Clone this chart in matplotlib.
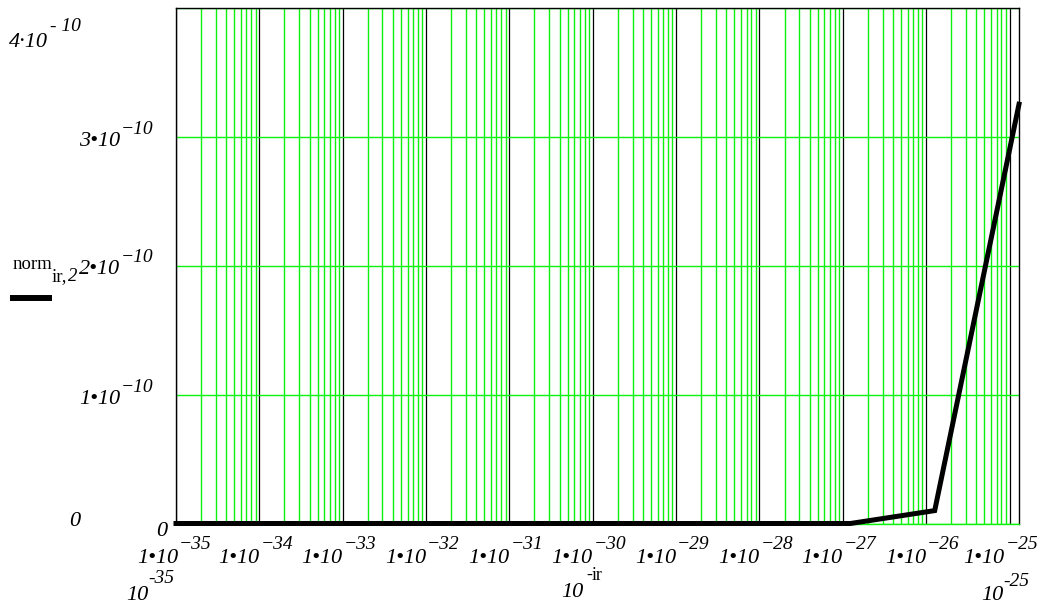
import numpy as np
import matplotlib.pyplot as plt
from matplotlib.lines import Line2D
from matplotlib.ticker import LogLocator, NullFormatter, NullLocator

# data: norm[ir, 2] against 10^-ir
ir = [35, 34, 33, 32, 31, 30, 29, 28, 27, 26, 25]
norm_ir2 = [0, 0, 0, 0, 0, 0, 0, 0, 0, 1.0e-11, 3.25e-10]
x_exps = [-35, -34, -33, -32, -31, -30, -29, -28, -27, -26, -25]
y_ticks = [1e-10, 2e-10, 3e-10]
y_tick_digits = ['1', '2', '3']
y_max = 4e-10

W, H = 1046, 604
SERIF = 'Liberation Serif'
GREEN = '#0cf20c'

fig = plt.figure(figsize=(W / 100, H / 100), dpi=100)
rect = [176 / W, 1 - 523.5 / H, (1019 - 176) / W, (523.5 - 7.5) / H]

# Mathcad draws its log grid a bit narrower than the data scale
gax = fig.add_axes(rect)
gax.set_xscale('log')
gax.set_xlim(10.0 ** x_exps[0], 10.0 ** (x_exps[0] + (x_exps[-1] - x_exps[0]) * 843.3 / 833.8))
gax.set_ylim(0, y_max)
gax.set_xticks([10.0 ** e for e in x_exps])
gax.xaxis.set_minor_locator(LogLocator(base=10, subs=np.arange(2, 10), numticks=100))
gax.xaxis.set_minor_formatter(NullFormatter())
gax.set_yticks([0] + y_ticks + [y_max])
gax.tick_params(which='both', length=0, labelbottom=False, labelleft=False)
gax.set_axisbelow(True)
gax.grid(which='major', axis='x', color='black', lw=0.9)
gax.grid(which='minor', axis='x', color=GREEN, lw=1.0)
gax.grid(which='major', axis='y', color=GREEN, lw=1.0)
for side in ['left', 'top', 'right']:
    gax.spines[side].set_color('black')
    gax.spines[side].set_linewidth(1.0)
gax.spines['bottom'].set_color(GREEN)
gax.spines['bottom'].set_linewidth(1.0)

# data axes on top
ax = fig.add_axes(rect)
ax.patch.set_visible(False)
ax.set_xscale('log')
ax.set_xlim(10.0 ** -35, 10.0 ** -25)
ax.set_ylim(0, y_max)
for s in ax.spines.values():
    s.set_visible(False)
ax.xaxis.set_major_locator(NullLocator())
ax.xaxis.set_minor_locator(NullLocator())
ax.yaxis.set_major_locator(NullLocator())
x_vals = [10.0 ** (-k) for k in ir]
ax.plot(x_vals, norm_ir2, color='black', lw=3.6, solid_joinstyle='miter', clip_on=False)

BASE = 16
SUP = 14


def lab(axis, xy, coords, dx, dy, base, sup, dy_sup=14):
    axis.annotate(base, xy=xy, xycoords=coords, xytext=(dx, dy), textcoords='offset pixels',
                  ha='right', va='baseline', fontsize=BASE, family=SERIF, style='italic',
                  annotation_clip=False)
    axis.annotate(sup, xy=xy, xycoords=coords, xytext=(dx + 1, dy + dy_sup), textcoords='offset pixels',
                  ha='left', va='baseline', fontsize=SUP, family=SERIF, style='italic',
                  annotation_clip=False)


# x tick labels at the grid decades
for i, e in enumerate(x_exps):
    dx = 2 if i == 0 else 0
    if i == len(x_exps) - 1:
        dx = -5
    lab(gax, (10.0 ** e, 0), ('data', 'axes fraction'), dx, -39.5, '1\u202210', '\u2212%d' % -e)

# y tick labels
for v, d in zip(y_ticks, y_tick_digits):
    lab(gax, (0, v), ('axes fraction', 'data'), -56, -9, d + '\u202210', '\u221210', dy_sup=12)
gax.annotate('0', xy=(0, 0), xycoords='axes fraction', xytext=(-9, -12.5), textcoords='offset pixels',
             ha='right', va='baseline', fontsize=BASE, family=SERIF, style='italic', annotation_clip=False)


def put(x, y, s, size, style='italic', ha='left'):
    fig.text(x / W, 1 - y / H, s, ha=ha, va='baseline', fontsize=size, family=SERIF, style=style)


# axis limit labels (Mathcad style)
put(48, 47, '4\u00b710', BASE, ha='right')
put(50, 31, '- 10', SUP)
put(80, 526, '0', BASE, ha='right')
put(148, 600, '10', BASE, ha='right')
put(148, 583, '-35', SUP)
put(1003, 600, '10', BASE, ha='right')
put(1003, 586, '-25', SUP)

# x axis label
put(583, 597, '10', BASE, ha='right')
put(586, 580, '-', 13, style='normal')
put(592, 580, 'ir', 13, style='normal')

# y axis label with line sample
put(13, 269, 'norm', 13.5, style='normal')
put(52, 281, 'ir,', 13.5, style='normal')
put(68, 281, '2', 13.5)
fig.add_artist(Line2D([10 / W, 52 / W], [1 - 298 / H, 1 - 298 / H], color='black', lw=4.3,
                      solid_capstyle='butt', transform=fig.transFigure))

fig.savefig('out.png', dpi=100)
